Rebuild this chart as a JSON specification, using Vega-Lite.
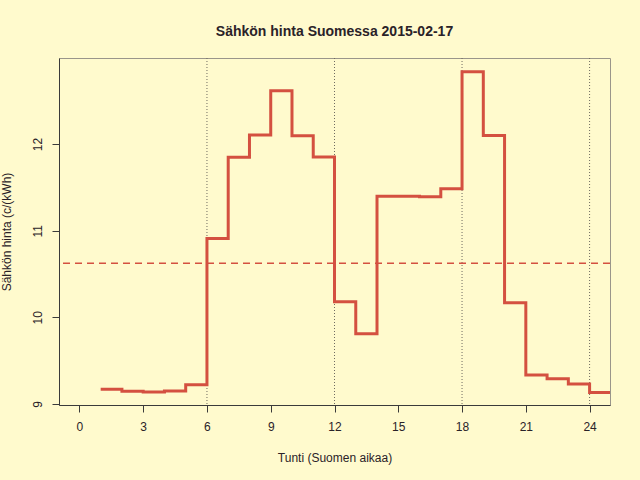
{
  "$schema": "https://vega.github.io/schema/vega-lite/v6.json",
  "width": 551,
  "height": 347,
  "autosize": {"type": "none"},
  "padding": {"left": 59, "top": 58, "right": 30, "bottom": 75},
  "background": "#FFFACD",
  "title": {
    "text": "Sähkön hinta Suomessa 2015-02-17",
    "font": "Liberation Sans",
    "fontSize": 14,
    "fontWeight": "bold",
    "color": "#2a2228",
    "offset": 19,
    "anchor": "middle"
  },
  "config": {
    "view": {"stroke": "#9a958a", "strokeWidth": 1},
    "axis": {
      "labelFont": "Liberation Sans",
      "titleFont": "Liberation Sans",
      "labelFontSize": 12,
      "titleFontSize": 12,
      "titleFontWeight": "normal",
      "labelColor": "#2a2228",
      "titleColor": "#2a2228",
      "domainColor": "#3a3a3a",
      "tickColor": "#3a3a3a",
      "tickSize": 7,
      "grid": false
    }
  },
  "datasets": {
    "price": [
      {"tunti": 1, "hinta": 9.167},
      {"tunti": 2, "hinta": 9.144},
      {"tunti": 3, "hinta": 9.136},
      {"tunti": 4, "hinta": 9.148},
      {"tunti": 5, "hinta": 9.22},
      {"tunti": 6, "hinta": 10.91},
      {"tunti": 7, "hinta": 11.848},
      {"tunti": 8, "hinta": 12.106},
      {"tunti": 9, "hinta": 12.617},
      {"tunti": 10, "hinta": 12.098},
      {"tunti": 11, "hinta": 11.85},
      {"tunti": 12, "hinta": 10.179},
      {"tunti": 13, "hinta": 9.81},
      {"tunti": 14, "hinta": 11.398},
      {"tunti": 15, "hinta": 11.398},
      {"tunti": 16, "hinta": 11.392},
      {"tunti": 17, "hinta": 11.483},
      {"tunti": 18, "hinta": 12.836},
      {"tunti": 19, "hinta": 12.1},
      {"tunti": 20, "hinta": 10.168},
      {"tunti": 21, "hinta": 9.332},
      {"tunti": 22, "hinta": 9.29},
      {"tunti": 23, "hinta": 9.229},
      {"tunti": 24, "hinta": 9.129},
      {"tunti": 25, "hinta": 9.129}
    ],
    "vlines": [{"tunti": 6}, {"tunti": 12}, {"tunti": 18}, {"tunti": 24}],
    "mean": [{"hinta": 10.624}]
  },
  "layer": [
    {
      "data": {"name": "vlines"},
      "mark": {"type": "rule", "color": "#6e6a60", "strokeWidth": 1, "strokeDash": [1, 2]},
      "encoding": {
        "x": {
          "field": "tunti",
          "type": "quantitative",
          "scale": {"domain": [-0.96, 24.96], "nice": false, "zero": false},
          "axis": {
            "values": [0, 3, 6, 9, 12, 15, 18, 21, 24],
            "title": "Tunti (Suomen aikaa)",
            "labelPadding": 9,
            "titlePadding": 20
          }
        }
      }
    },
    {
      "data": {"name": "mean"},
      "mark": {"type": "rule", "color": "#D45040", "strokeWidth": 1.5, "strokeDash": [7, 5]},
      "encoding": {
        "y": {"field": "hinta", "type": "quantitative"}
      }
    },
    {
      "data": {"name": "price"},
      "mark": {"type": "line", "interpolate": "step-after", "color": "#D45040", "strokeWidth": 3, "clip": true},
      "encoding": {
        "x": {"field": "tunti", "type": "quantitative"},
        "y": {
          "field": "hinta",
          "type": "quantitative",
          "scale": {"domain": [8.986, 12.995], "nice": false, "zero": false},
          "axis": {
            "values": [9, 10, 11, 12],
            "format": "d",
            "title": "Sähkön hinta (c/(kWh)",
            "labelAngle": -90,
            "labelAlign": "center",
            "labelBaseline": "bottom",
            "labelPadding": 8,
            "titlePadding": 18
          }
        }
      }
    }
  ]
}
